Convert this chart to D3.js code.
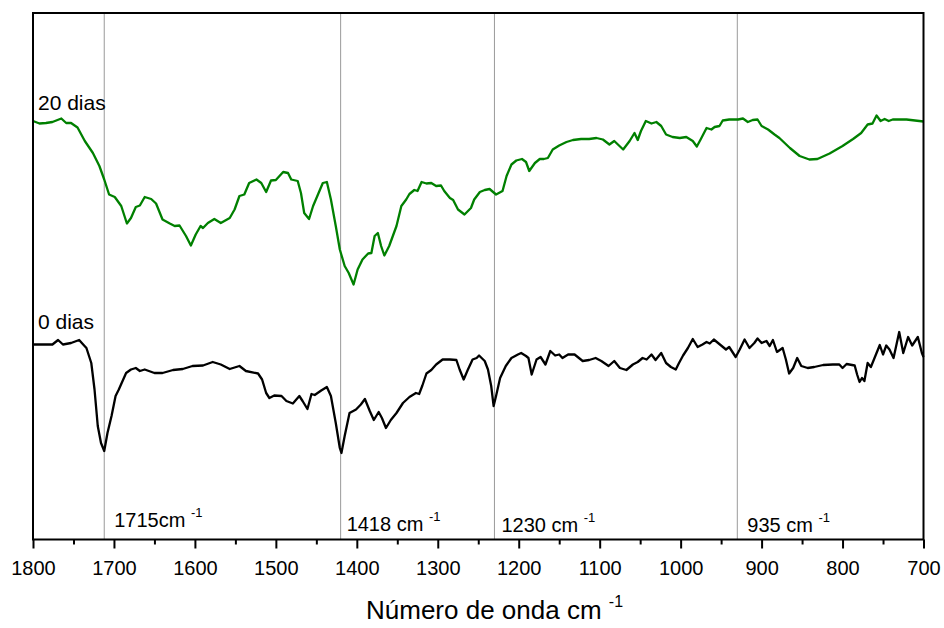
<!DOCTYPE html>
<html>
<head>
<meta charset="utf-8">
<script src="https://cdn.jsdelivr.net/npm/d3@7"></script>
<style>
  body { margin: 0; background: #fff; }
  svg text { font-family: "Liberation Sans", Arial, sans-serif; fill: #000; }
</style>
</head>
<body>
<div id="chart"></div>
<script>
// FTIR spectra, wavenumber (cm-1) vs transmittance (arbitrary units)
var wn20 = [1800, 1792, 1784, 1776, 1765, 1759, 1753, 1745, 1736, 1726, 1718, 1712, 1706, 1699, 1691, 1684, 1679, 1673, 1668, 1662,
  1654, 1648, 1640, 1631, 1625, 1619, 1611, 1605, 1599, 1593, 1590, 1584, 1576, 1568, 1557, 1551, 1545, 1539, 1533, 1524,
  1518, 1512, 1506, 1500, 1491, 1485, 1481, 1473, 1469, 1465, 1459, 1454, 1448, 1442, 1437, 1432, 1426, 1421, 1415, 1410,
  1404, 1399, 1393, 1386, 1382, 1378, 1374, 1370, 1366, 1360, 1351, 1345, 1339, 1335, 1329, 1325, 1320, 1314, 1308, 1302,
  1296, 1292, 1285, 1281, 1275, 1267, 1259, 1255, 1248, 1242, 1236, 1228, 1220, 1215, 1209, 1203, 1196, 1191, 1187, 1180,
  1174, 1169, 1164, 1158, 1150, 1141, 1133, 1123, 1113, 1104, 1096, 1088, 1082, 1071, 1063, 1057, 1053, 1049, 1043, 1036,
  1030, 1024, 1018, 1010, 1001, 993, 985, 980, 975, 968, 962, 958, 952, 948, 940, 929, 923, 917, 911, 905,
  900, 892, 884, 878, 865, 853, 841, 831, 816, 800, 787, 777, 769, 763, 758, 753, 748, 743, 738, 721, 700];
var t20 = [83.7, 83.2, 83.3, 83.5, 84.2, 83.3, 83.3, 82.4, 79.7, 77.3, 74.7, 72.0, 69.0, 68.5, 66.7, 63.2, 64.3, 66.5, 66.8, 68.5,
  68.1, 67.2, 64.0, 63.2, 62.7, 62.8, 60.7, 58.8, 61.0, 62.7, 62.3, 63.3, 64.1, 63.3, 64.3, 66.0, 68.7, 69.0, 71.3, 72.0,
  71.3, 69.5, 71.8, 71.9, 73.5, 73.3, 72.0, 71.7, 69.3, 65.3, 64.1, 66.7, 69.0, 71.3, 71.5, 68.0, 62.7, 58.0, 54.7, 53.3,
  51.0, 54.0, 56.0, 57.2, 57.3, 60.7, 61.3, 58.7, 56.8, 58.7, 62.7, 66.7, 68.0, 69.1, 69.9, 69.7, 71.5, 71.2, 71.3, 70.7,
  70.8, 69.7, 68.3, 67.9, 66.0, 65.0, 66.3, 68.0, 69.5, 69.9, 70.1, 69.0, 69.7, 72.7, 75.0, 75.8, 76.1, 75.5, 73.7, 75.3,
  76.1, 76.1, 76.3, 78.0, 78.8, 79.5, 79.9, 80.1, 80.1, 80.3, 80.0, 79.0, 79.7, 78.0, 79.7, 81.3, 79.9, 81.7, 83.7, 83.2,
  83.5, 82.7, 81.0, 80.5, 80.3, 80.5, 79.7, 78.6, 80.1, 82.3, 82.0, 82.5, 82.7, 83.8, 84.0, 84.0, 84.2, 83.5, 83.9, 84.0,
  82.7, 82.0, 81.0, 80.3, 78.3, 76.7, 76.0, 76.1, 77.2, 78.7, 80.1, 81.3, 83.0, 83.2, 84.8, 83.7, 84.1, 83.7, 84.0, 84.0, 83.6];

var wn0 = [1800, 1788, 1776, 1769, 1763, 1753, 1743, 1738, 1734, 1728, 1724, 1720, 1716, 1712, 1708, 1703, 1698, 1694, 1685, 1679,
  1673, 1668, 1662, 1650, 1640, 1627, 1615, 1603, 1590, 1578, 1568, 1557, 1545, 1537, 1522, 1517, 1512, 1508, 1502, 1493,
  1487, 1479, 1471, 1467, 1461, 1456, 1452, 1444, 1437, 1432, 1426, 1421, 1419, 1415, 1409, 1401, 1395, 1390, 1384, 1379,
  1373, 1369, 1364, 1358, 1351, 1343, 1335, 1327, 1323, 1319, 1314, 1308, 1302, 1294, 1285, 1277, 1273, 1268, 1263, 1257,
  1252, 1249, 1242, 1238, 1234, 1231, 1228, 1223, 1216, 1209, 1201, 1197, 1191, 1188, 1184, 1178, 1173, 1167, 1161, 1155,
  1150, 1146, 1139, 1131, 1121, 1113, 1105, 1098, 1089, 1082, 1075, 1067, 1059, 1053, 1047, 1042, 1036, 1031, 1024, 1018,
  1012, 1006, 1002, 997, 991, 985, 979, 973, 968, 964, 959, 953, 944, 940, 932, 927, 921, 915, 909, 905,
  900, 894, 890, 886, 881, 874, 870, 866, 861, 856, 851, 843, 835, 824, 812, 804, 800, 795, 785, 782,
  779, 776, 773, 769, 765, 760, 754, 750, 746, 742, 737, 730, 725, 719, 714, 707, 702, 700];
var t0 = [39.0, 39.0, 39.0, 39.9, 39.0, 39.3, 39.9, 39.0, 38.3, 35.3, 30.0, 22.7, 19.3, 17.7, 21.3, 24.7, 28.7, 30.0, 33.3, 34.0,
  34.3, 33.7, 34.0, 33.3, 33.3, 33.9, 34.1, 34.7, 34.8, 35.5, 35.0, 34.1, 34.7, 33.7, 33.2, 32.0, 29.3, 28.3, 28.8, 28.7,
  27.7, 27.2, 28.7, 27.7, 26.1, 29.1, 28.9, 29.8, 30.5, 28.7, 23.3, 18.3, 17.3, 20.7, 25.3, 26.0, 27.0, 28.1, 25.7, 23.9,
  25.5, 24.3, 22.3, 23.9, 25.3, 27.3, 28.5, 29.3, 29.1, 30.8, 33.2, 33.9, 35.0, 36.0, 36.0, 35.9, 34.0, 32.0, 33.9, 36.0,
  36.3, 36.8, 35.7, 34.0, 30.7, 26.7, 28.7, 32.3, 34.7, 36.3, 37.0, 37.3, 36.7, 36.3, 33.0, 36.0, 36.5, 35.0, 37.7, 36.8,
  37.0, 36.3, 37.0, 37.0, 35.7, 35.9, 36.3, 35.7, 34.7, 35.7, 34.3, 33.9, 35.0, 35.5, 36.3, 36.0, 37.0, 35.9, 37.3, 35.3,
  34.5, 34.0, 35.3, 36.8, 38.3, 40.1, 38.5, 39.0, 39.5, 39.2, 40.0, 39.2, 38.0, 38.5, 36.5, 38.0, 40.0, 38.3, 39.3, 40.2,
  39.3, 39.7, 38.7, 39.9, 37.5, 38.3, 36.0, 33.2, 34.3, 36.3, 34.7, 34.3, 34.5, 34.9, 35.0, 35.0, 34.3, 35.1, 34.8, 33.0,
  31.5, 32.3, 31.7, 35.3, 34.5, 36.5, 38.9, 37.0, 38.8, 38.0, 36.3, 41.5, 37.3, 40.5, 38.8, 40.5, 37.3, 36.5];

var seriesNames = ["20 dias", "0 dias"];
var seriesColors = ["#008000", "#000000"];

var xMajor = [1800, 1700, 1600, 1500, 1400, 1300, 1200, 1100, 1000, 900, 800, 700];
var xMinor = [1750, 1650, 1550, 1450, 1350, 1250, 1150, 1050, 950, 850, 750];

var bandWn = [1712, 1420, 1230, 930];
var bandText = ["1715cm", "1418 cm", "1230 cm", "935 cm"];

var width = 944, height = 628;
var margin = { top: 13, right: 20.5, bottom: 88.5, left: 33 };

var svg = d3.select("#chart").append("svg")
    .attr("width", width)
    .attr("height", height);

var x = d3.scaleLinear()
    .domain([1800, 700])
    .range([margin.left, width - margin.right]);

var y = d3.scaleLinear()
    .domain([0, 105.3])
    .range([height - margin.bottom, margin.top]);

var plotBottom = height - margin.bottom;

// band marker lines
svg.append("g")
    .selectAll("line")
    .data(bandWn)
    .enter()
    .append("line")
    .attr("x1", function (d) { return x(d); })
    .attr("x2", function (d) { return x(d); })
    .attr("y1", margin.top)
    .attr("y2", plotBottom)
    .attr("stroke", "#9a9a9a")
    .attr("stroke-width", 1);

// band labels with superscript
var labelDx = [10, 6, 7, 10];
var labelY = [527, 531, 532, 532];
var bandLabels = svg.append("g")
    .selectAll("text")
    .data(bandText)
    .enter()
    .append("text")
    .attr("x", function (d, i) { return x(bandWn[i]) + labelDx[i]; })
    .attr("y", function (d, i) { return labelY[i]; })
    .style("font-size", "20px");
bandLabels.append("tspan").text(function (d) { return d + " "; });
bandLabels.append("tspan")
    .attr("dy", -10)
    .style("font-size", "13px")
    .text("-1");

// spectra
var line = d3.line()
    .x(function (d) { return x(d[0]); })
    .y(function (d) { return y(d[1]); });

var series = [d3.zip(wn20, t20), d3.zip(wn0, t0)];

svg.append("g")
    .selectAll("path")
    .data(series)
    .enter()
    .append("path")
    .attr("fill", "none")
    .attr("stroke", function (d, i) { return seriesColors[i]; })
    .attr("stroke-width", 2.3)
    .attr("stroke-linejoin", "round")
    .attr("d", line);

// series names
var nameY = [110, 329];
svg.append("g")
    .selectAll("text")
    .data(seriesNames)
    .enter()
    .append("text")
    .attr("x", 38)
    .attr("y", function (d, i) { return nameY[i]; })
    .style("font-size", "21px")
    .text(function (d) { return d; });

// axes
var xAxis = svg.append("g")
    .attr("transform", "translate(0," + plotBottom + ")")
    .call(d3.axisBottom(x).tickValues(xMajor).tickSize(9).tickPadding(12).tickFormat(d3.format("d")));
xAxis.select(".domain").remove();
xAxis.selectAll("line").attr("stroke", "#000").attr("stroke-width", 2);
xAxis.selectAll("text").style("font-size", "20px").style("font-family", "'Liberation Sans', Arial, sans-serif");

var xAxisMinor = svg.append("g")
    .attr("transform", "translate(0," + plotBottom + ")")
    .call(d3.axisBottom(x).tickValues(xMinor).tickSize(5).tickFormat(""));
xAxisMinor.select(".domain").remove();
xAxisMinor.selectAll("line").attr("stroke", "#000").attr("stroke-width", 2);

// frame
svg.append("rect")
    .attr("x", margin.left)
    .attr("y", margin.top)
    .attr("width", width - margin.left - margin.right)
    .attr("height", plotBottom - margin.top)
    .attr("fill", "none")
    .attr("stroke", "#000")
    .attr("stroke-width", 2);

// axis title
var title = svg.append("text")
    .attr("x", 366)
    .attr("y", 619)
    .style("font-size", "26px");
title.append("tspan").text("Número de onda cm ");
title.append("tspan")
    .attr("dy", -12)
    .style("font-size", "16px")
    .text("-1");
</script>
</body>
</html>
